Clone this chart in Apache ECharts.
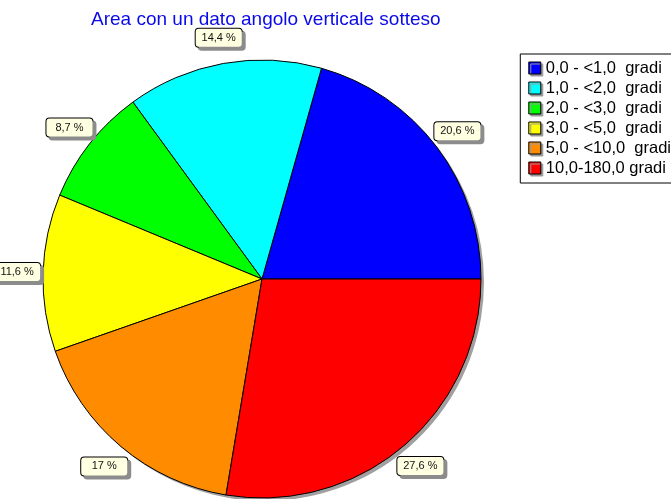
<!DOCTYPE html>
<html>
<head>
<meta charset="utf-8">
<script src="https://cdn.jsdelivr.net/npm/echarts@6/dist/echarts.min.js"></script>
<style>
  html, body { margin: 0; padding: 0; background: #fff; }
  #chart { width: 671px; height: 499px; }
</style>
</head>
<body>
<div id="chart"></div>
<script>
const categories = ['0,0 - <1,0  gradi', '1,0 - <2,0  gradi', '2,0 - <3,0  gradi', '3,0 - <5,0  gradi', '5,0 - <10,0  gradi', '10,0-180,0 gradi']
const percentages = [20.6, 14.4, 8.7, 11.6, 17, 27.6]
const percentLabels = ['20,6 %', '14,4 %', '8,7 %', '11,6 %', '17 %', '27,6 %']

const sliceColors = ['#0000ff', '#00ffff', '#00ff00', '#ffff00', '#ff8c00', '#ff0000']

const chart = echarts.init(document.getElementById('chart'))

const pieData = categories.map((name, i) => ({
  name,
  value: percentages[i],
  itemStyle: { color: sliceColors[i] },
}))

// same slices, used only to hold the callout boxes
const labelData = categories.map((name, i) => ({
  name,
  value: percentages[i],
  label: { formatter: percentLabels[i] },
}))

const fontFamily = 'Liberation Sans, Arial, sans-serif'

chart.setOption({
  animation: false,
  title: {
    text: 'Area con un dato angolo verticale sotteso',
    left: 86,
    top: 5,
    textStyle: {
      fontFamily,
      fontSize: 19,
      fontWeight: 'normal',
      color: '#0a0ae6',
    },
  },
  legend: {
    orient: 'vertical',
    right: -14,
    top: 54,
    padding: [4, 14, 5, 8],
    backgroundColor: '#fff',
    borderColor: '#000',
    borderWidth: 1,
    itemWidth: 12,
    itemHeight: 12,
    itemGap: 0,
    icon: 'rect',
    selectedMode: false,
    itemStyle: {
      borderColor: '#000',
      borderWidth: 1,
      shadowColor: '#999',
      shadowOffsetX: 2,
      shadowOffsetY: 2,
      shadowBlur: 0,
    },
    textStyle: {
      fontFamily,
      fontSize: 16.5,
      lineHeight: 20,
      color: '#000',
    },
    data: categories,
  },
  series: [
    {
      // drop shadow under the pie
      type: 'pie',
      z: 1,
      center: [265, 282],
      radius: 219,
      startAngle: 0,
      clockwise: false,
      silent: true,
      legendHoverLink: false,
      label: { show: false },
      labelLine: { show: false },
      itemStyle: { color: '#a0a0a0', borderWidth: 0 },
      emphasis: { disabled: true },
      data: percentages.map(v => ({ value: v })),
    },
    {
      type: 'pie',
      z: 2,
      center: [262, 279],
      radius: 219,
      startAngle: 0,
      clockwise: false,
      silent: true,
      label: { show: false },
      labelLine: { show: false },
      itemStyle: { borderColor: '#000', borderWidth: 1 },
      emphasis: { disabled: true },
      data: pieData,
    },
    {
      type: 'pie',
      z: 3,
      center: [262, 279],
      radius: [230, 254],
      startAngle: 0,
      clockwise: false,
      silent: true,
      legendHoverLink: false,
      itemStyle: { color: 'rgba(0,0,0,0)', borderWidth: 0 },
      emphasis: { disabled: true },
      label: {
        show: true,
        position: 'inside',
        fontFamily,
        fontSize: 11,
        color: '#111',
        width: 36,
        overflow: 'none',
        align: 'center',
        lineHeight: 12,
        padding: [3, 5],
        backgroundColor: '#ffffe1',
        borderColor: '#000',
        borderWidth: 1,
        borderRadius: 3,
        shadowColor: '#8c8c8c',
        shadowOffsetX: 3,
        shadowOffsetY: 3,
        shadowBlur: 0,
      },
      labelLine: { show: false },
      data: labelData,
    },
  ],
})
</script>
</body>
</html>
